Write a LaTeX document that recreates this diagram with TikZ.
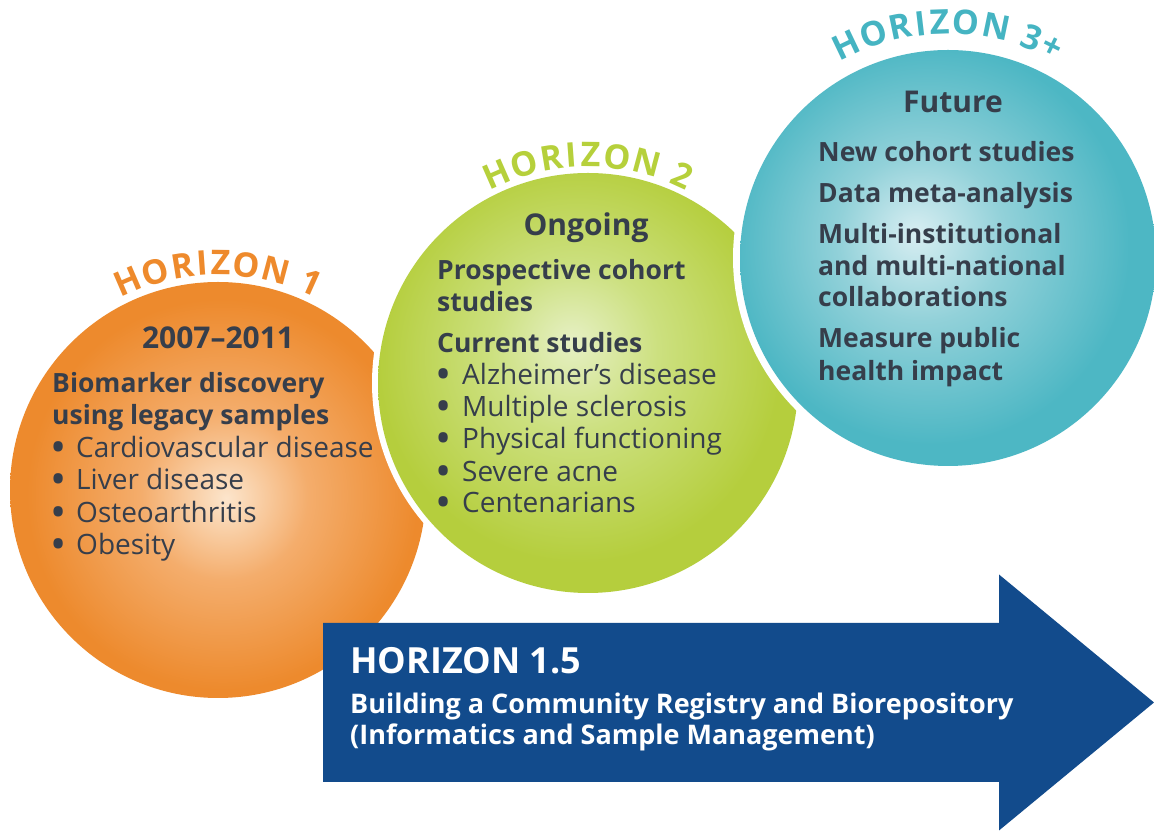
\documentclass[tikz,border=0pt]{standalone}
\usepackage{fontspec}
\setmainfont{Open Sans}
\usetikzlibrary{calc}

\definecolor{oout}{HTML}{ED8A2D}
\definecolor{omid}{HTML}{F4AD6C}
\definecolor{oin}{HTML}{FCE5CC}
\definecolor{gout}{HTML}{B5CE3D}
\definecolor{gmid}{HTML}{CCE07F}
\definecolor{gin}{HTML}{E6F0C4}
\definecolor{tout}{HTML}{4DB7C4}
\definecolor{tmid}{HTML}{92D1D9}
\definecolor{tin}{HTML}{D8EEF2}
\definecolor{ablue}{HTML}{124B8C}
\definecolor{txt}{HTML}{363E4B}
\definecolor{h1c}{HTML}{EE8A2C}
\definecolor{h2c}{HTML}{B6D03B}
\definecolor{h3c}{HTML}{45B4C2}

\pgfdeclareradialshading{oshade}{\pgfpoint{1bp}{-1bp}}{color(0bp)=(oin); color(10bp)=(omid); color(23.5bp)=(oout); color(50bp)=(oout)}
\pgfdeclareradialshading{gshade}{\pgfpoint{-2bp}{5bp}}{color(0bp)=(gin); color(10bp)=(gmid); color(24bp)=(gout); color(50bp)=(gout)}
\pgfdeclareradialshading{tshade}{\pgfpoint{-4bp}{3bp}}{color(0bp)=(tin); color(10bp)=(tmid); color(24bp)=(tout); color(50bp)=(tout)}

\def\arcsize{34}
\newcommand\arcfont{\fontsize{34}{34}\selectfont\bfseries}
% #1 name prefix, #2 cx, #3 cy, #4 radius, #5 arc length, #6 colour, #7 letter/width(em) list
\newcommand\arcword[7]{%
  \gdef\awsum{0}\gdef\awn{0}%
  \foreach \awc/\aww in {#7}{%
    \pgfmathsetmacro\awtmp{\awsum+\aww*\arcsize}\xdef\awsum{\awtmp}%
    \pgfmathsetmacro\awtmp{\awn+1}\xdef\awn{\awtmp}%
  }%
  \pgfmathsetmacro\awtrk{(#5-\awsum)/(\awn-1)}%
  \xdef\awtrk{\awtrk}%
  \gdef\awacc{0}%
  \foreach \awc/\aww [count=\awk] in {#7}{%
    \pgfmathsetmacro\awcw{\aww*\arcsize}%
    \pgfmathsetmacro\awang{90+(#5/2-\awacc-\awcw/2)/#4*180/pi}%
    \node[inner sep=0pt, anchor=base, rotate=\awang-90, text=#6, font=\arcfont]
      (#1\awk) at ({#2+#4*cos(\awang)},{#3+#4*sin(\awang)}) {\awc};
    \pgfmathsetmacro\awtmp{\awacc+\awcw+\awtrk}\xdef\awacc{\awtmp}%
  }%
}

\begin{document}
\begin{tikzpicture}[x=1pt,y=1pt,
  reg/.style={font=\fontsize{28}{32}\selectfont, text=txt, inner sep=0pt, anchor=base west},
  bul/.style={font=\fontsize{43}{43}\selectfont, text=txt, inner sep=0pt, anchor=base west},
  bld/.style={font=\fontsize{26.5}{32}\selectfont\bfseries, text=txt, inner sep=0pt, anchor=base west},
  ttl/.style={font=\fontsize{30}{32}\selectfont\bfseries, text=txt, inner sep=0pt, anchor=base},
  wht/.style={text=white, inner sep=0pt, anchor=base west}]
\useasboundingbox (0,0) rectangle (1154,832);
\fill[white] (0,0) rectangle (1154,832);

% circles
\shade[shading=oshade] (218,342) circle[radius=208pt];
\fill[white] (588,449) circle[radius=216pt];
\shade[shading=gshade] (588,449) circle[radius=210pt];
\fill[white] (948,574) circle[radius=215pt];
\shade[shading=tshade] (948,574) circle[radius=208pt];

% arrow
\fill[ablue] (323,50) -- (999,50) -- (999,1.5) -- (1154,129.5) -- (999,257.5) -- (999,209) -- (323,209) -- cycle;

% arc titles
\arcword{h1-}{218}{342}{215}{201}{h1c}{H/.754,O/.786,R/.663,I/.364,Z/.593,O/.786,N/.803,{}/.26,1/.572}
\arcword{h2-}{588}{449}{216}{204}{h2c}{H/.754,O/.786,R/.663,I/.364,Z/.593,O/.786,N/.803,{}/.26,2/.572}
\arcword{h3-}{948}{574}{224}{225}{h3c}{H/.754,O/.786,R/.663,I/.364,Z/.593,O/.786,N/.803,{}/.26,3/.572,+/.572}

% Horizon 1
\node[ttl] (o0) at (218,483) {2007–2011};
\node[bld] (o1) at (52,439) {Biomarker discovery};
\node[bld] (o2) at (52,407) {using legacy samples};
\node[bul] (ob1) at (50,369) {•}; \node[reg] (ot1) at (76,374) {Cardiovascular disease};
\node[bul] (ob2) at (50,337) {•}; \node[reg] (ot2) at (76,342) {Liver disease};
\node[bul] (ob3) at (50,304) {•}; \node[reg] (ot3) at (76,309) {Osteoarthritis};
\node[bul] (ob4) at (50,272) {•}; \node[reg] (ot4) at (76,277) {Obesity};

% Horizon 2
\node[ttl] (g0) at (586,596) {Ongoing};
\node[bld] (g1) at (437,552) {Prospective cohort};
\node[bld] (g2) at (437,520) {studies};
\node[bld] (g3) at (437,479) {Current studies};
\node[bul] (gb1) at (435,442) {•}; \node[reg] (gt1) at (462,447) {Alzheimer’s disease};
\node[bul] (gb2) at (435,410) {•}; \node[reg] (gt2) at (462,415) {Multiple sclerosis};
\node[bul] (gb3) at (435,378) {•}; \node[reg] (gt3) at (462,383) {Physical functioning};
\node[bul] (gb4) at (435,345) {•}; \node[reg] (gt4) at (462,350) {Severe acne};
\node[bul] (gb5) at (435,314) {•}; \node[reg] (gt5) at (462,319) {Centenarians};

% Horizon 3+
\node[ttl] (t0) at (953,719) {Future};
\node[bld] (t1) at (818,670) {New cohort studies};
\node[bld] (t2) at (818,629) {Data meta-analysis};
\node[bld] (t3) at (818,588) {Multi-institutional};
\node[bld] (t4) at (818,556) {and multi-national};
\node[bld] (t5) at (818,525) {collaborations};
\node[bld] (t6) at (818,484) {Measure public};
\node[bld] (t7) at (818,451) {health impact};

% Horizon 1.5
\node[wht, font=\fontsize{36}{36}\selectfont\bfseries] (a0) at (350,158) {HORIZON 1.5};
\node[wht, font=\fontsize{27}{32}\selectfont\bfseries] (a1) at (350,118) {Building a Community Registry and Biorepository};
\node[wht, font=\fontsize{27}{32}\selectfont\bfseries] (a2) at (350,87) {(Informatics and Sample Management)};
\end{tikzpicture}
\end{document}
